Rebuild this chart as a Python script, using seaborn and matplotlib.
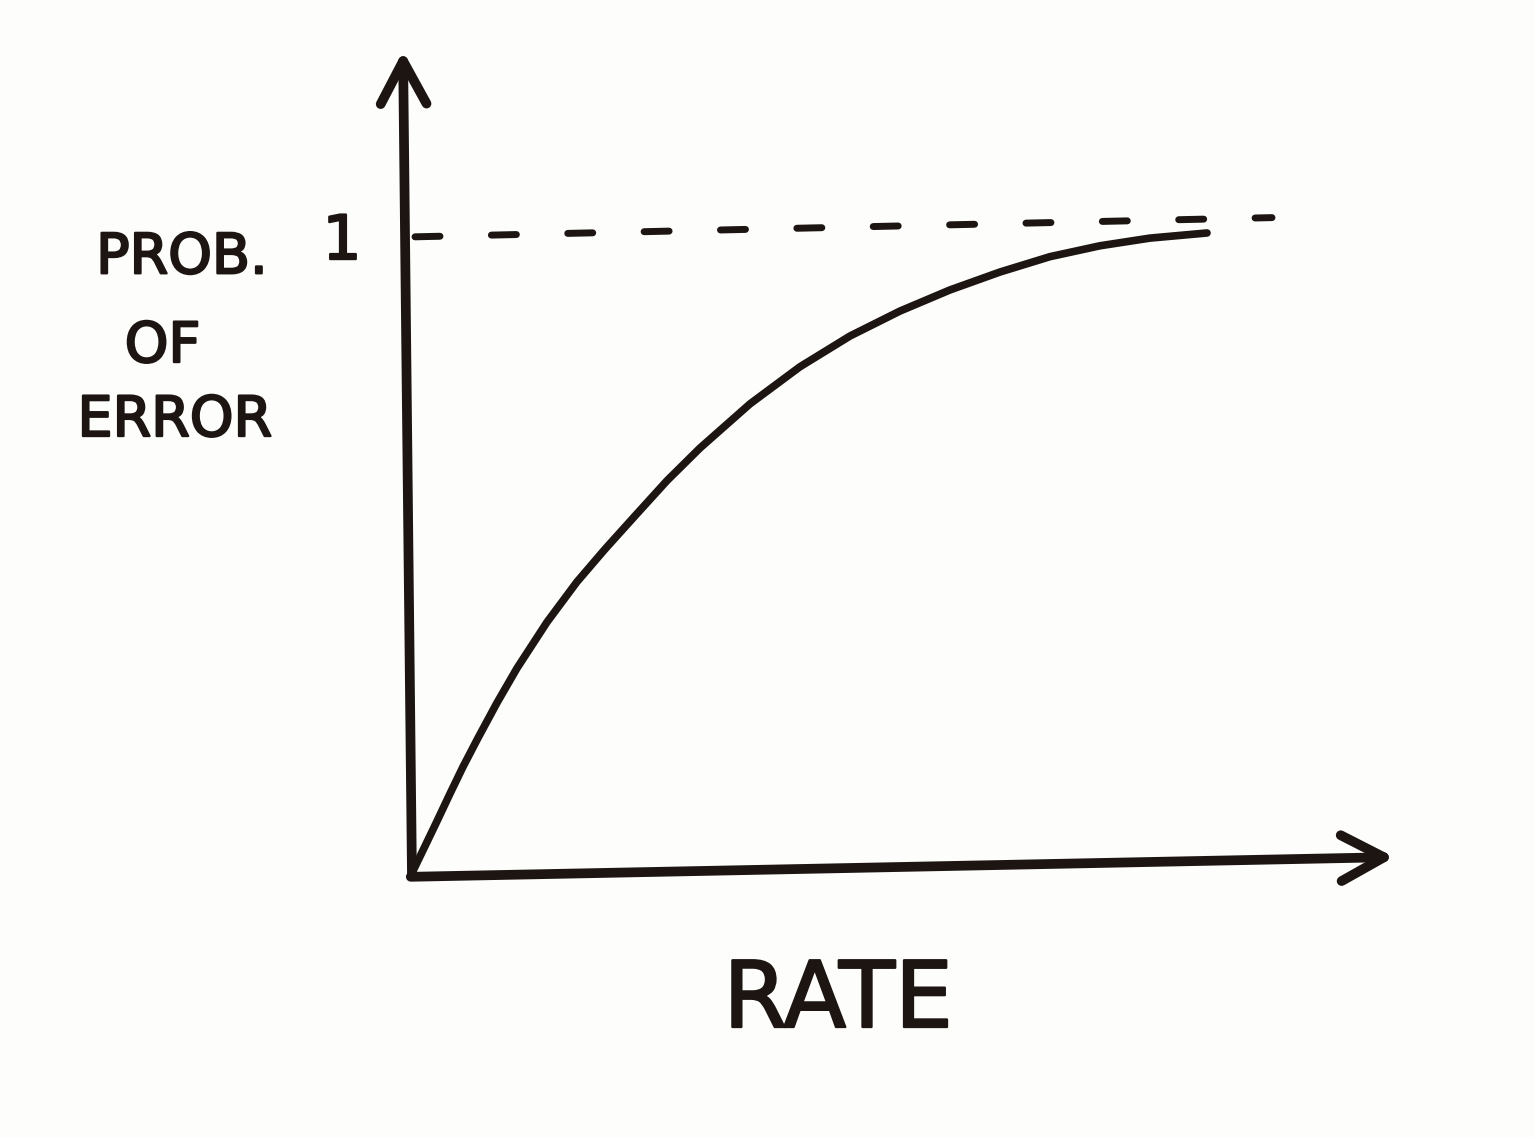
#!/usr/bin/env python3
#
# Sketch: probability of error vs rate

import matplotlib
matplotlib.use("Agg")
import matplotlib.pyplot as plt
import matplotlib.patheffects as pe
import seaborn as sns

# curve (rate in arbitrary units, prob in [0, 1])
rate = [0.02, 0.15, 0.27, 0.40, 0.53, 0.68, 0.87, 1.07, 1.37, 1.67, 1.95, 2.25,
        2.57, 2.90, 3.40, 3.90, 4.40, 4.90, 5.40, 5.90, 6.40, 6.90, 7.40, 7.97]
prob = [0.003, 0.045, 0.084, 0.127, 0.169, 0.214, 0.269, 0.323, 0.395, 0.458, 0.509, 0.561,
        0.616, 0.667, 0.736, 0.794, 0.842, 0.881, 0.914, 0.942, 0.966, 0.983, 0.995, 1.003]

# dashed asymptote, drawn by hand so it drifts up a little
asymptote_rate = [0.05, 8.62]
asymptote_prob = [0.997, 1.027]

ylabel_lines = ["PROB.", "OF", "ERROR"]
xlabel = "RATE"
tick_label = "1"

ink = "#1c1512"
paper = "#fdfdfc"

sns.set_theme(style="white")
plt.rcParams["font.family"] = ["DejaVu Sans"]

figure = plt.figure(figsize=(15.34, 11.38), dpi=100, facecolor=paper)
ax = figure.add_axes([0, 0, 1, 1])
ax.set_facecolor(paper)
ax.set_xlim(-4.10, 11.24)
ax.set_ylim(-0.411, 1.367)
ax.axis("off")

ax.plot(asymptote_rate, asymptote_prob, ls=(0, (3.6, 7.4)), color=ink, lw=5,
        dash_capstyle="round")

sns.lineplot(x=rate, y=prob, ax=ax, color=ink, lw=5.5, sort=False, estimator=None)
ax.lines[-1].set_solid_capstyle("round")
ax.lines[-1].set_solid_joinstyle("round")

# hand-drawn axes with open arrowheads
arrow = dict(arrowstyle="->,head_length=1.4,head_width=0.75", color=ink, lw=7,
             mutation_scale=22, capstyle="round", joinstyle="round")
ax.annotate("", xy=(-0.07, 1.292), xytext=(0.02, -0.005), arrowprops=arrow)
ax.annotate("", xy=(9.87, 0.028), xytext=(-0.02, -0.003), arrowprops=arrow)

thick = [pe.withStroke(linewidth=1.6, foreground=ink)]
ax.text(-0.68, 0.988, tick_label, fontsize=44, color=ink, ha="center", va="center",
        path_effects=thick)
ax.text(4.28, -0.197, xlabel, fontsize=66, color=ink, ha="center", va="center",
        path_effects=thick)

for label, (fx, fy) in zip(ylabel_lines, [(0.1186, 0.773), (0.106, 0.695), (0.114, 0.630)]):
    figure.text(fx, fy, label, fontsize=40, color=ink, ha="center", va="center",
                path_effects=thick)

figure.savefig("out.png", dpi=100, facecolor=figure.get_facecolor())
plt.close(figure)
